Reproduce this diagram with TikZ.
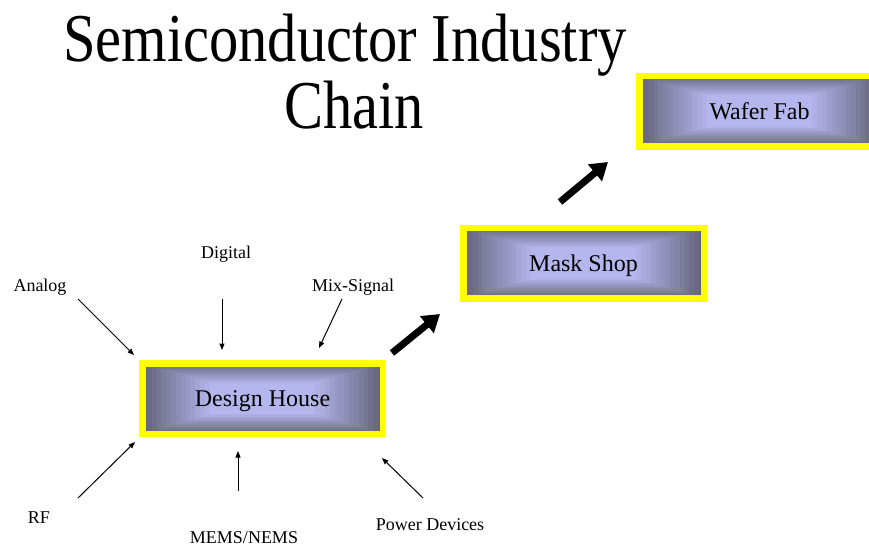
\documentclass[tikz,border=0pt]{standalone}
\usepackage{fontspec}
\setmainfont{Liberation Serif}
\usetikzlibrary{arrows.meta,calc}
\definecolor{boxdark}{RGB}{100,100,124}
\definecolor{boxlight}{RGB}{182,182,238}
\definecolor{rimyellow}{RGB}{255,255,0}

\begin{document}
\begin{tikzpicture}[x=1pt,y=-1pt,
  % stage box: yellow rim around a stepped rectangular gradient
  chainbox/.style={draw=rimyellow, line width=6.5pt,
    minimum width=240.5pt, minimum height=70.5pt, inner sep=0pt,
    text height=16.5pt, text depth=0pt,
    font=\fontsize{24}{28}\selectfont,
    path picture={
      \foreach \i in {0,...,14}{
        \pgfmathsetmacro\s{1-\i*0.04}
        \pgfmathtruncatemacro\p{round(\i*100/14)}
        \fill[boxlight!\p!boxdark]
          ($(path picture bounding box.center)!\s!(path picture bounding box.south west)$)
          rectangle
          ($(path picture bounding box.center)!\s!(path picture bounding box.north east)$);
      }}},
  lbl/.style={font=\fontsize{18}{21}\selectfont, inner sep=0pt, anchor=base},
  headline/.style={font=\fontsize{58.5}{66}\selectfont, inner sep=0pt, anchor=base},
  feed/.style={line width=1pt, -{Triangle[length=6.5pt,width=5pt]}},
  flow/.style={line width=7pt, -{Triangle[length=17pt,width=21pt]}}
]
\useasboundingbox (0,0) rectangle (869,546);
\clip (0,0) rectangle (869,546);

% title
\node[headline] (title1) at (345,61) {\scalebox{1}[1.17]{Semiconductor Industry}};
\node[headline] (title2) at (354,128) {\scalebox{1}[1.17]{Chain}};

% chain stages
\node[chainbox] (design) at (262.5,398.5) {Design House};
\node[chainbox] (mask)   at (583.5,263)   {Mask Shop};
\node[chainbox] (fab)    at (759.5,111)   {Wafer Fab};

% design inputs
\node[lbl] (analog)  at (40,291)  {Analog};
\node[lbl] (digital) at (226,258) {Digital};
\node[lbl] (mixsig)  at (353,291) {Mix-Signal};
\node[lbl] (rf)      at (39,523)  {RF};
\node[lbl] (mems)    at (244,543) {MEMS/NEMS};
\node[lbl] (power)   at (430,530) {Power Devices};

% arrow ends around the design box
\coordinate (analogA) at (78,299);   \coordinate (analogB) at (134,355);
\coordinate (digitalA) at (222,299); \coordinate (digitalB) at (222,350);
\coordinate (mixA) at (342,299);     \coordinate (mixB) at (319,348);
\coordinate (rfA) at (78,498);       \coordinate (rfB) at (135,442);
\coordinate (memsA) at (238,491);    \coordinate (memsB) at (238,451);
\coordinate (powerA) at (423,498);   \coordinate (powerB) at (382,458);

\draw[feed] (analogA) -- (analogB);
\draw[feed] (digitalA) -- (digitalB);
\draw[feed] (mixA) -- (mixB);
\draw[feed] (rfA) -- (rfB);
\draw[feed] (memsA) -- (memsB);
\draw[feed] (powerA) -- (powerB);

% flow between stages
\coordinate (dmA) at (392,353); \coordinate (dmB) at (440,314);
\coordinate (mfA) at (560,202); \coordinate (mfB) at (608,162);
\draw[flow] (dmA) -- (dmB);
\draw[flow] (mfA) -- (mfB);
\end{tikzpicture}
\end{document}
